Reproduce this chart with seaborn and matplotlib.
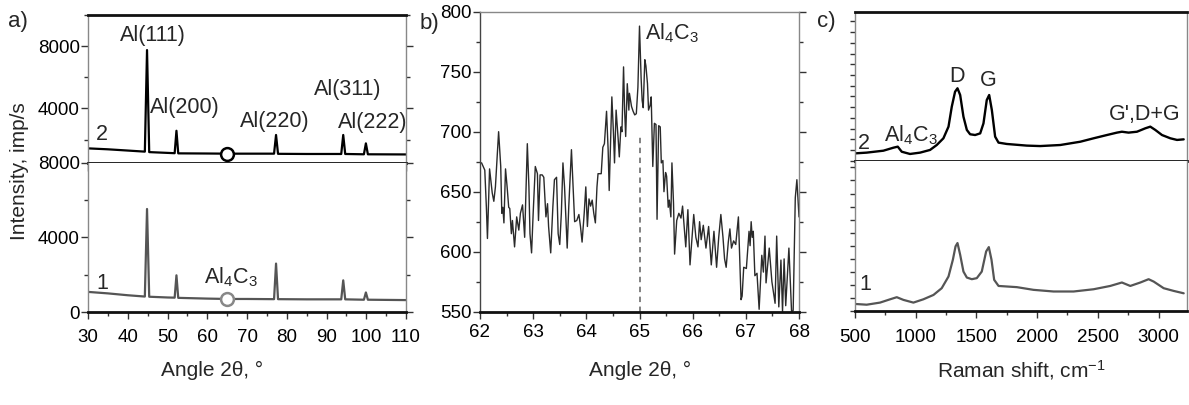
import matplotlib
matplotlib.use("Agg")
import matplotlib.pyplot as plt
import matplotlib.ticker as ticker
import seaborn as sns

# a) XRD patterns, curve 2 (upper panel) and curve 1 (lower panel)
xrd_angle = [30, 35, 40, 44.3, 44.85, 45.4, 50, 51.8, 52.25, 52.7, 60, 65, 70,
             76.8, 77.3, 77.8, 85, 93.7, 94.2, 94.7, 99.4, 99.9, 100.4, 110]
xrd_int_2 = [1440, 1380, 1300, 1230, 7750, 1200, 1150, 1130, 2570, 1120, 1110, 1100, 1100,
             1100, 2300, 1090, 1080, 1080, 2300, 1080, 1060, 1760, 1060, 1050]
xrd_int_1 = [1080, 1000, 900, 830, 5530, 820, 780, 770, 1970, 760, 720, 700, 700,
             690, 2600, 690, 680, 680, 1700, 680, 660, 1050, 660, 640]
al4c3_angle = [65]
al4c3_int_2 = [1110]
al4c3_int_1 = [700]

# b) detail of the Al4C3 region
b_angle = [62.00, 62.03, 62.06, 62.09, 62.12, 62.14, 62.18, 62.23, 62.26, 62.29, 62.35, 62.39,
           62.41, 62.43, 62.45, 62.48, 62.51, 62.54, 62.56, 62.59, 62.61, 62.65, 62.69, 62.73,
           62.76, 62.80, 62.84, 62.89, 62.92, 62.94, 62.97, 63.00, 63.04, 63.08, 63.10, 63.13,
           63.17, 63.20, 63.24, 63.27, 63.29, 63.33, 63.37, 63.40, 63.44, 63.47, 63.50, 63.53,
           63.56, 63.59, 63.64, 63.67, 63.72, 63.75, 63.78, 63.82, 63.86, 63.89, 63.92, 63.96,
           63.99, 64.02, 64.05, 64.08, 64.11, 64.14, 64.17, 64.20, 64.22, 64.25, 64.28, 64.31,
           64.34, 64.38, 64.41, 64.43, 64.46, 64.48, 64.51, 64.53, 64.56, 64.60, 64.62, 64.65,
           64.67, 64.70, 64.72, 64.74, 64.77, 64.80, 64.81, 64.85, 64.88, 64.91, 64.94, 64.97,
           65.00, 65.03, 65.05, 65.07, 65.10, 65.12, 65.15, 65.17, 65.20, 65.22, 65.25, 65.28,
           65.31, 65.33, 65.36, 65.39, 65.41, 65.44, 65.46, 65.49, 65.51, 65.54, 65.56, 65.59,
           65.61, 65.64, 65.66, 65.70, 65.74, 65.78, 65.81, 65.87, 65.91, 65.95, 66.02, 66.06,
           66.10, 66.13, 66.16, 66.20, 66.25, 66.30, 66.35, 66.40, 66.45, 66.49, 66.53, 66.57,
           66.60, 66.63, 66.67, 66.70, 66.73, 66.77, 66.81, 66.86, 66.91, 66.93, 66.96, 67.01,
           67.06, 67.08, 67.10, 67.12, 67.14, 67.17, 67.21, 67.25, 67.30, 67.33, 67.36, 67.38,
           67.44, 67.49, 67.55, 67.58, 67.62, 67.66, 67.69, 67.72, 67.75, 67.81, 67.86, 67.89,
           67.93, 67.96, 68.00]
b_counts = [674, 674, 671, 668, 637, 611, 669, 649, 642, 654, 700, 671,
            632, 637, 624, 669, 654, 637, 636, 615, 626, 604, 629, 618,
            632, 639, 612, 690, 654, 615, 599, 632, 671, 665, 626, 664,
            664, 662, 629, 640, 621, 599, 637, 660, 662, 615, 606, 632,
            674, 654, 603, 638, 685, 654, 625, 626, 631, 621, 608, 632,
            654, 621, 644, 638, 643, 632, 624, 654, 665, 665, 665, 687,
            690, 717, 685, 651, 699, 729, 699, 674, 718, 693, 679, 704,
            700, 754, 718, 696, 740, 718, 732, 721, 717, 714, 715, 737,
            788, 745, 726, 720, 760, 755, 740, 718, 722, 729, 671, 707,
            706, 627, 705, 704, 674, 676, 650, 666, 663, 637, 643, 629,
            674, 640, 598, 626, 632, 628, 638, 604, 635, 589, 631, 612,
            604, 625, 610, 622, 603, 621, 589, 617, 587, 612, 631, 612,
            594, 587, 608, 619, 603, 609, 606, 629, 560, 563, 587, 586,
            617, 605, 625, 612, 617, 580, 582, 552, 597, 583, 613, 574,
            603, 575, 557, 613, 554, 593, 550, 594, 555, 603, 550, 551,
            645, 660, 629]
b_peak_pos = 65.0
b_peak_mark_top = 697

# c) Raman spectra (arbitrary units)
raman_shift_2 = [500, 596, 734, 816, 852, 885, 953, 1036, 1118, 1173, 1228, 1270, 1297, 1324,
                 1344, 1366, 1393, 1421, 1448, 1489, 1531, 1558, 1585, 1605, 1627, 1654, 1682,
                 1750, 1915, 2025, 2190, 2355, 2465, 2575, 2657, 2698, 2753, 2822, 2891, 2932,
                 2973, 3028, 3097, 3152, 3207]
raman_int_2 = [5.1, 5.6, 6.9, 8.9, 9.6, 6.2, 4.7, 5.6, 7.4, 10.7, 15.2, 23.0, 36.4, 46.4,
               48.7, 44.2, 29.7, 20.8, 17.9, 17.4, 18.5, 25.2, 40.8, 44.2, 34.1, 16.3, 12.3,
               11.4, 10.3, 10.0, 10.7, 12.9, 15.2, 17.4, 19.0, 19.6, 19.0, 19.6, 21.9, 23.0,
               20.8, 17.4, 15.2, 14.1, 14.5]
raman_shift_1 = [500, 596, 706, 789, 844, 899, 981, 1063, 1146, 1214, 1270, 1306, 1328, 1344,
                 1366, 1393, 1421, 1462, 1503, 1544, 1580, 1602, 1624, 1646, 1682, 1833, 1970,
                 2135, 2300, 2465, 2602, 2698, 2767, 2850, 2918, 2960, 3042, 3124, 3207]
raman_int_1 = [4.7, 4.2, 5.6, 7.8, 9.2, 7.4, 5.6, 7.8, 10.7, 15.2, 23.0, 34.2, 43.1, 45.3,
               37.5, 26.3, 22.3, 21.2, 21.9, 26.3, 39.7, 42.6, 34.2, 20.8, 16.7, 15.9, 14.1,
               13.0, 13.0, 14.5, 16.7, 19.0, 16.7, 19.0, 21.2, 19.6, 15.2, 13.4, 11.8]

sns.set_style("ticks")
plt.rcParams['font.family'] = ['Liberation Sans', 'DejaVu Sans']
plt.rcParams['mathtext.default'] = 'regular'

TICK_FS = 13.5
ANN_FS = 15.5
DARK = '#111111'
GREY1 = '#555555'
THIN = '#888888'

fig = plt.figure(figsize=(11.89, 4.05), dpi=100)


def frame(ax, top=True, bottom=True, xpad=8):
    ax.spines['left'].set_color(THIN)
    ax.spines['right'].set_color(THIN)
    ax.spines['left'].set_linewidth(1.0)
    ax.spines['right'].set_linewidth(1.0)
    for side, heavy in (('top', top), ('bottom', bottom)):
        ax.spines[side].set_color(DARK)
        ax.spines[side].set_linewidth(2.0 if heavy else 1.0)
    ax.tick_params(which='both', direction='out', colors='#333333', labelcolor='black',
                   labelsize=TICK_FS, pad=1)
    ax.tick_params(axis='x', which='both', pad=xpad)
    ax.tick_params(which='major', length=5, width=1)
    ax.tick_params(which='minor', length=3, width=1)


# ---------- a) ----------
ax_a2 = fig.add_axes([0.074, 0.5975, 0.2675, 0.3654])
ax_a1 = fig.add_axes([0.074, 0.2296, 0.2675, 0.368])

sns.lineplot(x=xrd_angle, y=xrd_int_2, ax=ax_a2, color='black', lw=1.6, estimator=None)
sns.scatterplot(x=al4c3_angle, y=al4c3_int_2, ax=ax_a2, s=85, color='white',
                edgecolor='black', linewidth=1.8, zorder=5)
sns.lineplot(x=xrd_angle, y=xrd_int_1, ax=ax_a1, color=GREY1, lw=1.6, estimator=None)
sns.scatterplot(x=al4c3_angle, y=al4c3_int_1, ax=ax_a1, s=85, color='white',
                edgecolor='#888888', linewidth=1.8, zorder=5)

for ax in (ax_a2, ax_a1):
    frame(ax, xpad=7)
    ax.set_xlim(30, 110)
    ax.xaxis.set_major_locator(ticker.MultipleLocator(10))
    ax.xaxis.set_minor_locator(ticker.MultipleLocator(5))
    ax.yaxis.set_major_locator(ticker.MultipleLocator(4000))
    ax.yaxis.set_minor_locator(ticker.MultipleLocator(2000))
    ax.tick_params(axis='y', which='both', right=True)
    ax.set_xlabel('')
    ax.set_ylabel('')

ax_a2.set_ylim(500, 10000)
ax_a2.set_yticks([4000, 8000])
ax_a2.tick_params(axis='x', which='both', labelbottom=False, length=6)
ax_a1.set_ylim(0, 8000)
ax_a1.set_yticks([0, 4000, 8000])
ax_a1.spines['top'].set_visible(False)

ax_a2.text(46.3, 8700, 'Al(111)', fontsize=ANN_FS, ha='center', va='center')
ax_a2.text(54.4, 4050, 'Al(200)', fontsize=ANN_FS, ha='center', va='center')
ax_a2.text(77.0, 3150, 'Al(220)', fontsize=ANN_FS, ha='center', va='center')
ax_a2.text(95.3, 5200, 'Al(311)', fontsize=ANN_FS, ha='center', va='center')
ax_a2.text(101.6, 3100, 'Al(222)', fontsize=ANN_FS, ha='center', va='center')
ax_a2.text(33.5, 2300, '2', fontsize=ANN_FS, ha='center', va='center')
ax_a1.text(33.5, 1550, '1', fontsize=ANN_FS, ha='center', va='center')
ax_a1.text(65.9, 1850, 'Al$_4$C$_3$', fontsize=ANN_FS, ha='center', va='center')

# ---------- b) ----------
ax_b = fig.add_axes([0.4037, 0.2304, 0.2683, 0.7407])
sns.lineplot(x=b_angle, y=b_counts, ax=ax_b, color='#2a2a2a', lw=1.0, estimator=None)
ax_b.vlines(b_peak_pos, 550, b_peak_mark_top, color='#777777', lw=1.3,
            linestyles=(0, (3, 2.5)))
frame(ax_b, top=False, bottom=True, xpad=4)
ax_b.spines['left'].set_color('#444444')
ax_b.spines['top'].set_color(THIN)
ax_b.set_xlim(62, 68)
ax_b.set_ylim(550, 800)
ax_b.xaxis.set_major_locator(ticker.MultipleLocator(1))
ax_b.xaxis.set_minor_locator(ticker.MultipleLocator(0.5))
ax_b.yaxis.set_major_locator(ticker.MultipleLocator(50))
ax_b.yaxis.set_minor_locator(ticker.MultipleLocator(25))
ax_b.tick_params(axis='y', which='both', right=True)
ax_b.set_xlabel('')
ax_b.set_ylabel('')
ax_b.text(65.1, 782, 'Al$_4$C$_3$', fontsize=ANN_FS, ha='left', va='center')

# ---------- c) ----------
ax_c2 = fig.add_axes([0.7191, 0.6025, 0.2792, 0.3686])
ax_c1 = fig.add_axes([0.7191, 0.2321, 0.2792, 0.3704])
sns.lineplot(x=raman_shift_2, y=raman_int_2, ax=ax_c2, color='black', lw=1.7, estimator=None)
sns.lineplot(x=raman_shift_1, y=raman_int_1, ax=ax_c1, color=GREY1, lw=1.6, estimator=None)
for ax, step in ((ax_c2, 7.2), (ax_c1, 8.7)):
    frame(ax, xpad=8)
    ax.set_xlim(500, 3234)
    ax.set_ylim(0, 100)
    ax.xaxis.set_major_locator(ticker.MultipleLocator(500))
    ax.xaxis.set_minor_locator(ticker.MultipleLocator(250))
    ax.yaxis.set_major_locator(ticker.MultipleLocator(step))
    ax.tick_params(axis='y', which='both', labelleft=False, length=3.5)
    ax.set_xlabel('')
    ax.set_ylabel('')
ax_c2.tick_params(axis='x', which='both', labelbottom=False, length=6)
ax_c1.spines['top'].set_visible(False)

ax_c2.text(574, 12, '2', fontsize=ANN_FS, ha='center', va='center')
ax_c2.text(962, 17.5, 'Al$_4$C$_3$', fontsize=ANN_FS, ha='center', va='center')
ax_c2.text(1340, 56.5, 'D', fontsize=ANN_FS, ha='center', va='center')
ax_c2.text(1597, 54, 'G', fontsize=ANN_FS, ha='center', va='center')
ax_c2.text(2883, 31, "G',D+G", fontsize=ANN_FS, ha='center', va='center')
ax_c1.text(582, 17.5, '1', fontsize=ANN_FS, ha='center', va='center')

# ---------- figure texts ----------
fig.text(8 / 1189, 1 - 21 / 405, 'a)', fontsize=16, ha='left', va='center')
fig.text(420 / 1189, 1 - 23 / 405, 'b)', fontsize=16, ha='left', va='center')
fig.text(817 / 1189, 1 - 22 / 405, 'c)', fontsize=16, ha='left', va='center')
fig.text(20 / 1189, 1 - 171 / 405, 'Intensity, imp/s', fontsize=15, rotation=90,
         family=['Liberation Sans Narrow', 'Liberation Sans', 'DejaVu Sans'],
         ha='center', va='center')
fig.text(212 / 1189, 1 - 370 / 405, 'Angle 2θ, °', fontsize=15, ha='center', va='center')
fig.text(640 / 1189, 1 - 370 / 405, 'Angle 2θ, °', fontsize=15, ha='center', va='center')
fig.text(1021 / 1189, 1 - 370 / 405, 'Raman shift, cm$^{-1}$', fontsize=15,
         ha='center', va='center')

fig.savefig('out.png', dpi=100)
plt.close(fig)
